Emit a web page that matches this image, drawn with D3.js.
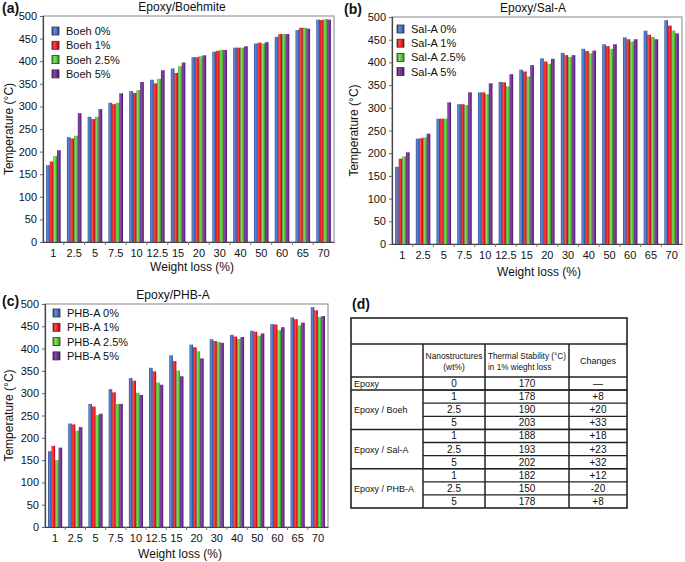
<!DOCTYPE html>
<html><head><meta charset="utf-8">
<script src="https://cdn.jsdelivr.net/npm/d3@7"></script>
<style>html,body{margin:0;padding:0;background:#fff}svg{display:block;font-family:"Liberation Sans",Arial,sans-serif}</style>
</head><body><svg id="c" width="685" height="562"></svg>
<script>
// ---------- DATA ----------
const categories = ["1","2.5","5","7.5","10","12.5","15","20","30","40","50","60","65","70"];
const yTicks = [0,50,100,150,200,250,300,350,400,450,500];
const loadings = ["0%","1%","2.5%","5%"];

const boeh0  = [170,232,277,308,334,359,384,409,421,430,439,454,469,492];
const boeh1  = [178,229,272,305,330,351,374,409,423,430,441,460,474,491];
const boeh25 = [190,235,277,308,336,361,389,411,425,430,439,460,474,493];
const boeh5  = [203,285,294,329,354,380,397,413,425,433,442,460,472,492];

const sal0  = [170,232,276,308,334,357,384,409,421,430,440,455,470,493];
const sal1  = [188,233,276,308,334,356,380,402,416,425,436,451,461,481];
const sal25 = [193,235,276,306,330,347,369,397,412,420,430,446,456,470];
const sal5  = [202,243,312,334,354,374,394,408,416,426,440,451,451,464];

const phb0  = [170,232,276,309,334,357,385,409,421,431,440,455,470,493];
const phb1  = [182,230,270,302,328,349,372,403,417,427,438,454,466,486];
const phb25 = [150,216,251,276,301,324,351,394,415,422,429,441,452,471];
const phb5  = [178,224,254,276,296,319,338,378,413,426,434,448,458,473];

const tableGroups = ["Epoxy","Epoxy / Boeh","Epoxy / Sal-A","Epoxy / PHB-A"];
const tableGroupRows = [1,3,3,3];
const tableNano = ["0","1","2.5","5","1","2.5","5","1","2.5","5"];
const tableStability = ["170","178","190","203","188","193","202","182","150","178"];
const tableChanges = ["\u2014","+8","+20","+33","+18","+23","+32","+12","-20","+8"];

// ---------- STYLE ----------
const colors = [
  {id:"gBlue",  dark:"#24438a", mid:"#4a74c4", light:"#5f8ad6"},
  {id:"gRed",   dark:"#b3000a", mid:"#ee1c24", light:"#ff4a4a"},
  {id:"gGreen", dark:"#2f8f1e", mid:"#5cc83c", light:"#7fe05a"},
  {id:"gPurple",dark:"#4a1468", mid:"#6e2f92", light:"#8a4aab"}
];

const svg = d3.select("#c");
const defs = svg.append("defs");
colors.forEach(c=>{
  const g = defs.append("linearGradient").attr("id",c.id).attr("x1","0").attr("x2","1").attr("y1","0").attr("y2","0");
  g.append("stop").attr("offset","0%").attr("stop-color",c.dark);
  g.append("stop").attr("offset","30%").attr("stop-color",c.light);
  g.append("stop").attr("offset","65%").attr("stop-color",c.mid);
  g.append("stop").attr("offset","100%").attr("stop-color",c.dark);
});

function panel(cfg){
  const g = svg.append("g");
  const x = d3.scaleBand().domain(categories).range([cfg.x0,cfg.x1]).paddingInner(0.3).paddingOuter(0.15);
  const xs = d3.scaleBand().domain(d3.range(cfg.series.length)).range([0,x.bandwidth()]);
  const y = d3.scaleLinear().domain([0,500]).range([cfg.y1,cfg.y0]);

  g.append("rect").attr("x",cfg.x0).attr("y",cfg.y0).attr("width",cfg.x1-cfg.x0).attr("height",cfg.y1-cfg.y0)
   .attr("fill","#fff").attr("stroke","#9a9a9a").attr("stroke-width",1.2);

  cfg.series.forEach((vals,si)=>{
    g.append("g").selectAll("rect").data(vals).join("rect")
      .attr("x",(d,i)=>x(categories[i])+xs(si))
      .attr("width",xs.bandwidth())
      .attr("y",d=>y(d))
      .attr("height",d=>y(0)-y(d))
      .attr("fill",`url(#${colors[si].id})`);
  });

  const ya = g.append("g").attr("transform",`translate(${cfg.x0},0)`)
    .call(d3.axisLeft(y).tickValues(yTicks).tickSize(3).tickPadding(3));
  ya.select(".domain").attr("stroke","#444").attr("stroke-width",1.2);
  ya.selectAll(".tick line").attr("stroke","#666");
  ya.selectAll("text").attr("font-size","11px").attr("fill","#111").attr("font-family","Liberation Sans, Arial");

  const xa = g.append("g").attr("transform",`translate(0,${cfg.y1})`)
    .call(d3.axisBottom(x).tickSize(0).tickPadding(7).tickSizeOuter(0));
  xa.select(".domain").attr("stroke","#444").attr("stroke-width",1.2);
  xa.selectAll("text").attr("font-size","11px").attr("fill","#111").attr("font-family","Liberation Sans, Arial");
  const step = x.step();
  g.append("g").selectAll("line").data(categories.slice(1)).join("line")
    .attr("x1",d=>x(d)-step*x.paddingInner()/2).attr("x2",d=>x(d)-step*x.paddingInner()/2)
    .attr("y1",cfg.y1).attr("y2",cfg.y1+3).attr("stroke","#777");

  g.append("text").attr("x",cfg.titleX).attr("y",cfg.y0-5).attr("text-anchor","middle")
    .attr("font-size","12px").attr("fill","#111").text(cfg.title);
  g.append("text").attr("x",cfg.xTitleX).attr("y",cfg.xTitleY).attr("text-anchor","middle")
    .attr("font-size","12px").attr("fill","#111").text("Weight loss (%)");
  g.append("text").attr("transform",`translate(${cfg.yTitleX},${(cfg.y0+cfg.y1)/2}) rotate(-90)`)
    .attr("text-anchor","middle").attr("font-size","12px").attr("fill","#111").text("Temperature (\u00B0C)");
  g.append("text").attr("x",cfg.letterX).attr("y",cfg.letterY).attr("font-size","14px").attr("font-weight","bold")
    .attr("fill","#111").text(cfg.letter);

  const lg = g.append("g");
  cfg.series.forEach((s,si)=>{
    const cy = cfg.legY + si*cfg.legStep;
    lg.append("rect").attr("x",cfg.legX).attr("y",cy-4).attr("width",7).attr("height",8)
      .attr("fill",`url(#${colors[si].id})`).attr("stroke","#333").attr("stroke-width",0.8);
    lg.append("text").attr("x",cfg.legX+14).attr("y",cy+4).attr("font-size","11px").attr("fill","#111")
      .text(cfg.legName+" "+loadings[si]);
  });
}

panel({x0:43,x1:334,y0:16,y1:242,title:"Epoxy/Boehmite",titleX:182,xTitleX:192,xTitleY:271,yTitleX:13,
  letter:"(a)",letterX:2,letterY:13,legX:52,legY:31,legStep:14.3,legName:"Boeh",
  series:[boeh0,boeh1,boeh25,boeh5]});
panel({x0:392,x1:682,y0:17,y1:244,title:"Epoxy/Sal-A",titleX:533,xTitleX:539,xTitleY:276,yTitleX:358,
  letter:"(b)",letterX:344,letterY:14,legX:397,legY:29,legStep:14.2,legName:"Sal-A",
  series:[sal0,sal1,sal25,sal5]});
panel({x0:45,x1:328,y0:304,y1:527,title:"Epoxy/PHB-A",titleX:173,xTitleX:180,xTitleY:558,yTitleX:13,
  letter:"(c)",letterX:2,letterY:306,legX:53,legY:313,legStep:14.3,legName:"PHB-A",
  series:[phb0,phb1,phb25,phb5]});

// ---------- TABLE (d) ----------
const t = svg.append("g").attr("font-size","9px").attr("fill","#111");
t.append("text").attr("x",352).attr("y",309).attr("font-size","14px").attr("font-weight","bold").text("(d)");
const colX = [351,423,485,569,627];
const topY = 318, titleRowB = 344, headB = 377;
const rowH = (508-377)/tableNano.length;
const rowTop = i => headB + i*rowH;
const ln = (x1,y1,x2,y2,w)=>t.append("line").attr("x1",x1).attr("y1",y1).attr("x2",x2).attr("y2",y2)
   .attr("stroke","#222").attr("stroke-width",w||1.3);
t.append("rect").attr("x",colX[0]).attr("y",topY).attr("width",colX[4]-colX[0]).attr("height",rowTop(tableNano.length)-topY)
  .attr("fill","none").attr("stroke","#222").attr("stroke-width",1.6);
ln(colX[0],titleRowB,colX[4],titleRowB,1.6);
ln(colX[0],headB,colX[4],headB,1.6);
for(let c=1;c<4;c++) ln(colX[c],titleRowB,colX[c],rowTop(tableNano.length),1.5);
let r=0;
const groupStart=[];
tableGroupRows.forEach((n,gi)=>{ groupStart.push(r); r+=n; if(gi<tableGroupRows.length-1) ln(colX[0],rowTop(r),colX[4],rowTop(r),1.5); });
for(let i=1;i<tableNano.length;i++) ln(colX[1],rowTop(i),colX[4],rowTop(i),1.3);
const mid = (a,b)=>(a+b)/2;
t.append("text").attr("x",mid(colX[1],colX[2])).attr("y",359).attr("text-anchor","middle").attr("font-size","8.4px").text("Nanostructures");
t.append("text").attr("x",mid(colX[1],colX[2])).attr("y",370).attr("text-anchor","middle").attr("font-size","8.4px").text("(wt%)");
t.append("text").attr("x",colX[2]+3).attr("y",359).attr("font-size","8.2px").text("Thermal Stability (\u00B0C)");
t.append("text").attr("x",colX[2]+3).attr("y",370).attr("font-size","8.2px").text("in 1% wieght loss");
t.append("text").attr("x",mid(colX[3],colX[4])).attr("y",364).attr("text-anchor","middle").text("Changes");
tableGroups.forEach((name,gi)=>{
  const yc = rowTop(groupStart[gi]) + tableGroupRows[gi]*rowH/2;
  t.append("text").attr("x",colX[0]+3).attr("y",yc+3.5).text(name);
});
tableNano.forEach((v,i)=>{
  const yb = rowTop(i)+rowH/2+3.5;
  t.append("text").attr("x",mid(colX[1],colX[2])).attr("y",yb).attr("text-anchor","middle").attr("font-size","10px").text(v);
  t.append("text").attr("x",mid(colX[2],colX[3])).attr("y",yb).attr("text-anchor","middle").attr("font-size","10px").text(tableStability[i]);
  t.append("text").attr("x",mid(colX[3],colX[4])).attr("y",yb).attr("text-anchor","middle").attr("font-size","10px").text(tableChanges[i]);
});
</script></body></html>
